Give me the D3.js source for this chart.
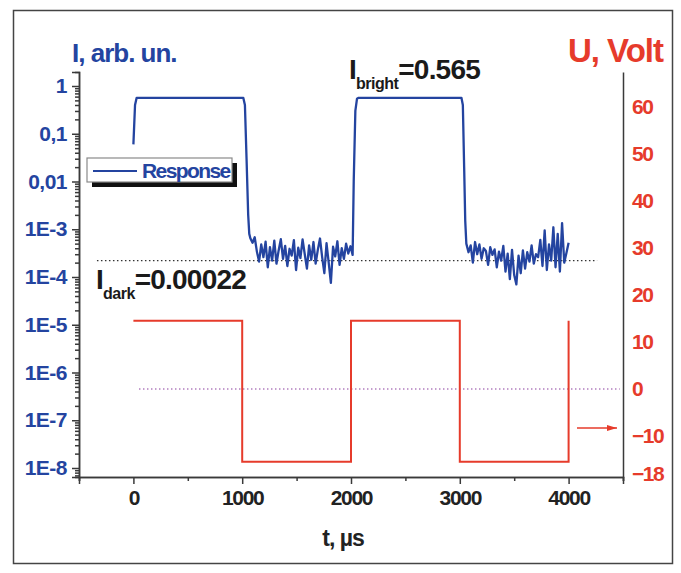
<!DOCTYPE html>
<html>
<head>
<meta charset="utf-8">
<script src="https://cdn.jsdelivr.net/npm/d3@7"></script>
<style>
body { margin: 0; background: #ffffff; }
text { font-family: "Liberation Sans", Arial, sans-serif; font-weight: bold; }
</style>
</head>
<body>
<div id="chart"></div>
<script>

// ---DATA---//

// response current, arb. un. (log axis)
var responseTime = [ 0, 15, 30, 1010, 1025, 1040, 1055, 1065,
	1075, 1095, 1115, 1135, 1155, 1175, 1195, 1215, 1235, 1255, 1275, 1295,
	1315, 1335, 1355, 1375, 1395, 1415, 1435, 1455, 1475, 1495, 1515, 1535,
	1555, 1575, 1595, 1615, 1635, 1655, 1675, 1695, 1715, 1735, 1755, 1775,
	1795, 1815, 1835, 1855, 1875, 1895, 1915, 1935, 1955, 1975, 1995, 2015,
	2025, 2040, 2055, 2070, 2085, 3015, 3028, 3040, 3050,
	3060, 3080, 3100, 3120, 3140, 3160, 3180, 3200, 3220, 3240, 3260, 3280,
	3300, 3320, 3340, 3360, 3380, 3400, 3420, 3440, 3460, 3480, 3500, 3520,
	3540, 3560, 3580, 3600, 3620, 3640, 3660, 3680, 3700, 3720, 3740, 3760,
	3780, 3800, 3820, 3840, 3860, 3880, 3900, 3920, 3940, 3960, 3980, 4000 ];

var responseValue = [ 0.06, 0.4, 0.565, 0.565, 0.4, 0.03, 2e-3, 8e-4,
	6.5e-4, 5.2e-4, 6.8e-4, 3.4e-4, 2.1e-4, 4.8e-4, 2.6e-4, 5.5e-4, 1.6e-4, 4.2e-4, 2.2e-4, 5.8e-4,
	1.9e-4, 3.6e-4, 6.2e-4, 2.4e-4, 4.5e-4, 1.7e-4, 3.9e-4, 2.8e-4, 5.9e-4, 1.4e-4, 4.1e-4, 2.5e-4,
	6.1e-4, 3.0e-4, 1.5e-4, 4.6e-4, 2.3e-4, 5.4e-4, 1.9e-4, 3.7e-4, 6.4e-4, 2.6e-4, 1.2e-4, 5.1e-4,
	2.0e-4, 0.75e-4, 4.3e-4, 2.7e-4, 5.6e-4, 1.8e-4, 4.0e-4, 2.4e-4, 5.0e-4, 3.1e-4, 4.4e-4, 2.9e-4,
	0.01, 0.3, 0.54, 0.565, 0.565, 0.565, 0.4, 0.02, 1.5e-3,
	5.0e-4, 3.3e-4, 4.6e-4, 2.0e-4, 5.4e-4, 3.0e-4, 4.8e-4, 2.4e-4, 4.0e-4, 3.5e-4, 1.8e-4, 4.2e-4,
	2.9e-4, 3.8e-4, 1.6e-4, 3.4e-4, 2.2e-4, 4.5e-4, 1.3e-4, 3.1e-4, 0.9e-4, 3.7e-4, 1.1e-4, 0.7e-4,
	2.8e-4, 1.2e-4, 3.6e-4, 1.5e-4, 3.3e-4, 2.1e-4, 4.6e-4, 1.9e-4, 3.0e-4, 2.6e-4, 6.0e-4, 1.7e-4,
	9.5e-4, 1.4e-4, 4.8e-4, 2.2e-4, 11.0e-4, 1.6e-4, 8.0e-4, 1.3e-4, 13.5e-4, 2.0e-4, 3.2e-4, 5.2e-4 ];

// applied voltage, Volt (right axis)
var voltTime = [ 0, 1000, 1000, 2000, 2000, 3000, 3000, 4000, 4000 ];
var voltValue = [ 14.5, 14.5, -15.5, -15.5, 14.5, 14.5, -15.5, -15.5, 14.5 ];

// reference levels
var brightLevel = 0.565;
var darkLevel = 0.00022;
var zeroVolt = 0;

// tick labels
var xTicks = [ 0, 1000, 2000, 3000, 4000 ];
var xMinorTicks = [ -500, 500, 1500, 2500, 3500, 4500 ];
var leftTicks = [ 1, 0.1, 0.01, 1e-3, 1e-4, 1e-5, 1e-6, 1e-7, 1e-8 ];
var leftTickLabels = [ "1", "0,1", "0,01", "1E-3", "1E-4", "1E-5", "1E-6", "1E-7", "1E-8" ];
var rightTicks = [ 60, 50, 40, 30, 20, 10, 0, -10, -18 ];

// ---LAYOUT---//

var width = 681;
var height = 573;

var blue = "#2444a0";
var red = "#e63b2b";
var axisColor = "#3a3a3a";

var plot = {
	left : 79,
	right : 623,
	top : 72,
	bottom : 477
};

var svg = d3.select("#chart").append("svg") //
.attr("width", width) //
.attr("height", height);

// outer frame
svg.append("rect") //
.attr("x", 13.5) //
.attr("y", 10.5) //
.attr("width", 659) //
.attr("height", 553) //
.attr("fill", "none") //
.attr("stroke", "#444") //
.attr("stroke-width", 1.5);

// ---SCALES---//

var x = d3.scaleLinear().domain([ -500, 4500 ]).range([ plot.left, plot.right ]);

var yLeft = d3.scaleLog().domain([ 1e-8, 1 ]).range([ 468, 86 ]);
yLeft.domain([ yLeft.invert(plot.bottom), yLeft.invert(plot.top) ]).range([ plot.bottom, plot.top ]);

var yRight = d3.scaleLinear().domain([ 0, 60 ]).range([ 389, 107 ]);
yRight.domain([ yRight.invert(plot.bottom), yRight.invert(plot.top) ]).range([ plot.bottom, plot.top ]);

// ---REFERENCE LINES---//

svg.append("line") //
.attr("x1", x(-335)) //
.attr("x2", x(4262)) //
.attr("y1", yLeft(darkLevel)) //
.attr("y2", yLeft(darkLevel)) //
.attr("stroke", "#333") //
.attr("stroke-width", 1.3) //
.attr("stroke-dasharray", "1.5,2.5");

svg.append("line") //
.attr("x1", x(51)) //
.attr("x2", x(4470)) //
.attr("y1", yRight(zeroVolt)) //
.attr("y2", yRight(zeroVolt)) //
.attr("stroke", "#8a3d9e") //
.attr("stroke-width", 1.2) //
.attr("stroke-dasharray", "1.5,2.5");

// ---SERIES---//

var voltLine = d3.line() //
.x(function(d, i) {
	return x(voltTime[i]);
}) //
.y(function(d) {
	return yRight(d);
});

svg.append("path") //
.datum(voltValue) //
.attr("d", voltLine) //
.attr("fill", "none") //
.attr("stroke", red) //
.attr("stroke-width", 2);

var responseLine = d3.line() //
.x(function(d, i) {
	return x(responseTime[i]);
}) //
.y(function(d) {
	return yLeft(d);
});

svg.append("path") //
.datum(responseValue) //
.attr("d", responseLine) //
.attr("fill", "none") //
.attr("stroke", blue) //
.attr("stroke-width", 2.3) //
.attr("stroke-linejoin", "round");

// ---AXES---//

// bottom axis
var xAxis = d3.axisBottom(x).tickValues(xTicks).tickSize(7).tickPadding(6).tickFormat(d3.format("d"));
var xMinor = d3.axisBottom(x).tickValues(xMinorTicks).tickSize(4).tickFormat("");

var gx = svg.append("g").attr("transform", "translate(0," + plot.bottom + ")").call(xAxis);
svg.append("g").attr("transform", "translate(0," + plot.bottom + ")").call(xMinor);

gx.selectAll("text") //
.attr("font-size", "21px") //
.attr("letter-spacing", "-1.3px") //
.attr("fill", "#222");

// left axis
var leftMinorTicks = yLeft.ticks().filter(function(d) {
	return leftTicks.indexOf(d) < 0;
});

var yAxisLeft = d3.axisLeft(yLeft).tickValues(leftTicks).tickSize(7).tickPadding(5) //
.tickFormat(function(d, i) {
	return leftTickLabels[i];
});
var yMinorLeft = d3.axisLeft(yLeft).tickValues(leftMinorTicks).tickSize(4).tickFormat("");

var gl = svg.append("g").attr("transform", "translate(" + plot.left + ",0)").call(yAxisLeft);
svg.append("g").attr("transform", "translate(" + plot.left + ",0)").call(yMinorLeft);

gl.selectAll("text") //
.attr("font-size", "21px") //
.attr("letter-spacing", "-0.5px") //
.attr("fill", blue);

// right axis
var yAxisRight = d3.axisRight(yRight).tickValues(rightTicks).tickSize(0).tickPadding(9).tickFormat(d3.format("d"));

var gr = svg.append("g").attr("transform", "translate(" + plot.right + ",0)").call(yAxisRight);

gr.selectAll("text") //
.attr("font-size", "21px") //
.attr("letter-spacing", "-1.5px") //
.attr("fill", red);

svg.selectAll(".domain, .tick line") //
.attr("stroke", axisColor) //
.attr("stroke-width", 1.5);

// ---TITLES---//

svg.append("text") //
.attr("x", 72) //
.attr("y", 62) //
.attr("font-size", "26px") //
.attr("letter-spacing", "-1px") //
.attr("fill", blue) //
.text("I, arb. un.");

svg.append("text") //
.attr("x", 663) //
.attr("y", 62) //
.attr("text-anchor", "end") //
.attr("font-size", "33px") //
.attr("letter-spacing", "-1px") //
.attr("fill", red) //
.text("U, Volt");

svg.append("text") //
.attr("x", 343) //
.attr("y", 546) //
.attr("text-anchor", "middle") //
.attr("font-size", "23px") //
.attr("letter-spacing", "-1px") //
.attr("fill", "#222") //
.text("t, \u00b5s");

// ---ANNOTATIONS---//

function levelLabel(xPos, yPos, sub, value) {

	var t = svg.append("text") //
	.attr("x", xPos) //
	.attr("y", yPos) //
	.attr("font-size", "28px") //
	.attr("letter-spacing", "-0.8px") //
	.attr("fill", "#1a1a1a");

	t.append("tspan").text("I");
	t.append("tspan").attr("font-size", "16px").attr("dy", 10).attr("letter-spacing", "-0.5px").text(sub);
	t.append("tspan").attr("dy", -10).text("=" + value);

}// END: levelLabel

levelLabel(349, 79, "bright", brightLevel);
levelLabel(96, 289, "dark", darkLevel);

// arrow to the right axis
svg.append("defs").append("marker") //
.attr("id", "arrowHead") //
.attr("viewBox", "0 0 10 6") //
.attr("refX", 10) //
.attr("refY", 3) //
.attr("markerWidth", 10) //
.attr("markerHeight", 6) //
.attr("markerUnits", "userSpaceOnUse") //
.attr("orient", "auto") //
.append("path") //
.attr("d", "M0,0 L10,3 L0,6 Z") //
.attr("fill", red);

svg.append("line") //
.attr("x1", x(4077)) //
.attr("x2", x(4445)) //
.attr("y1", yRight(-8.3)) //
.attr("y2", yRight(-8.3)) //
.attr("stroke", red) //
.attr("stroke-width", 1.5) //
.attr("marker-end", "url(#arrowHead)");

// ---LEGEND---//

var legend = svg.append("g").attr("transform", "translate(87,158)");

legend.append("rect") //
.attr("x", 5) //
.attr("y", 5) //
.attr("width", 145) //
.attr("height", 24) //
.attr("fill", "#111");

legend.append("rect") //
.attr("x", 0) //
.attr("y", 0) //
.attr("width", 145) //
.attr("height", 24) //
.attr("fill", "#ffffff") //
.attr("stroke", "#8a8a8a") //
.attr("stroke-width", 1.2);

legend.append("line") //
.attr("x1", 6) //
.attr("x2", 50) //
.attr("y1", 13) //
.attr("y2", 13) //
.attr("stroke", blue) //
.attr("stroke-width", 2);

legend.append("text") //
.attr("x", 55) //
.attr("y", 20) //
.attr("font-size", "21px") //
.attr("letter-spacing", "-1.6px") //
.attr("fill", blue) //
.text("Response");

</script>
</body>
</html>
